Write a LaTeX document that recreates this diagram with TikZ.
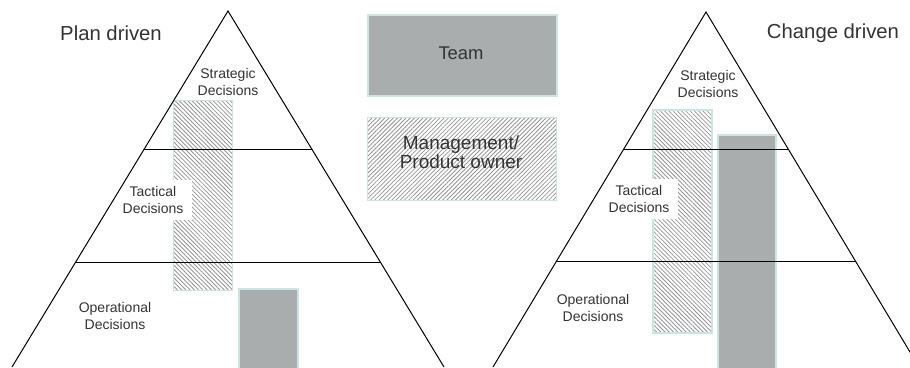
\documentclass[tikz,border=0pt]{standalone}
\usepackage{fontspec}
\setmainfont{Liberation Sans}
\usetikzlibrary{patterns.meta,calc}

\definecolor{barfill}{HTML}{AAADAD}
\definecolor{edge}{HTML}{CFE3E3}
\definecolor{hatch}{HTML}{959595}
\definecolor{ink}{HTML}{333333}

\tikzset{
  teambar/.style={rectangle, fill=barfill, draw=edge, line width=1.6pt, inner sep=0pt},
  mgmtbar/.style={rectangle, draw=edge, line width=1.6pt, inner sep=0pt,
    pattern={Lines[angle=-45,distance=3pt,line width=0.8pt]}, pattern color=hatch},
  mgmtkey/.style={mgmtbar, pattern={Lines[angle=45,distance=3pt,line width=0.8pt]}},
  level/.style={text=ink, font=\fontsize{14}{16.5}\selectfont, align=center, inner sep=0pt},
  cutlabel/.style={level, fill=white, inner xsep=9pt, inner ysep=7pt},
  title/.style={text=ink, font=\fontsize{20.3}{24}\selectfont, inner sep=0pt},
  keytext/.style={text=ink, align=center, inner sep=0pt},
  tri/.style={draw=black, line width=1pt},
}

\begin{document}
\begin{tikzpicture}[x=1pt,y=-1pt]
\useasboundingbox (0,0) rectangle (910,367);
\clip (0,0) rectangle (910,367);

% triangle corners
\coordinate (Ltop) at (228,11);
\coordinate (Lbl)  at (12,367);
\coordinate (Lbr)  at (444,367);
\coordinate (Rtop) at (706,12);
\coordinate (Rbl)  at (493,367);
\coordinate (Rbr)  at (919,367);

% responsibility bars, plan driven
\node[mgmtbar, minimum width=59pt, minimum height=190pt, anchor=north west] (lmgmt) at (173,100) {};
\node[teambar, minimum width=59pt, minimum height=90pt, anchor=north west] (lteam) at (238,288) {};

% responsibility bars, change driven
\node[mgmtbar, minimum width=59pt, minimum height=223pt, anchor=north west] (rmgmt) at (652,109) {};
\node[teambar, minimum width=58pt, minimum height=240pt, anchor=north west] (rteam) at (717,134) {};

% key
\node[teambar, minimum width=189pt, minimum height=81pt, anchor=north west] (keyteam) at (367,14) {};
\node[keytext, font=\fontsize{18.4}{22}\selectfont] (keyteamtxt) at (461,53) {Team};
\node[mgmtkey, minimum width=189pt, minimum height=83pt, anchor=north west] (keymgmt) at (367,117) {};
\node[keytext, font=\fontsize{19}{19}\selectfont] (keymgmttxt) at (461,152) {Management/\\Product owner};

% labels that sit over the bars
\node[cutlabel] (ltac) at (153,200) {Tactical\\Decisions};
\node[cutlabel] (rtac) at (639,199) {Tactical\\Decisions};

% pyramids
\draw[tri] (Lbl) -- (Ltop) -- (Lbr);
\draw[tri] ($(Ltop)!0.3904!(Lbl)$) coordinate (l1a) -- ($(Ltop)!0.3904!(Lbr)$) coordinate (l1b);
\draw[tri] ($(Ltop)!0.7051!(Lbl)$) coordinate (l2a) -- ($(Ltop)!0.7051!(Lbr)$) coordinate (l2b);
\draw[tri] (Rbl) -- (Rtop) -- (Rbr);
\draw[tri] ($(Rtop)!0.3887!(Rbl)$) coordinate (r1a) -- ($(Rtop)!0.3887!(Rbr)$) coordinate (r1b);
\draw[tri] ($(Rtop)!0.7042!(Rbl)$) coordinate (r2a) -- ($(Rtop)!0.7042!(Rbr)$) coordinate (r2b);

% level labels
\node[level] (lstr) at (228,82) {Strategic\\Decisions};
\node[level] (lop)  at (115,316) {Operational\\Decisions};
\node[level] (rstr) at (708,84) {Strategic\\Decisions};
\node[level] (rop)  at (593,308) {Operational\\Decisions};

% titles
\node[title] (plan) at (111,33) {Plan driven};
\node[title] (change) at (833,33) {Change driven};
\end{tikzpicture}
\end{document}
